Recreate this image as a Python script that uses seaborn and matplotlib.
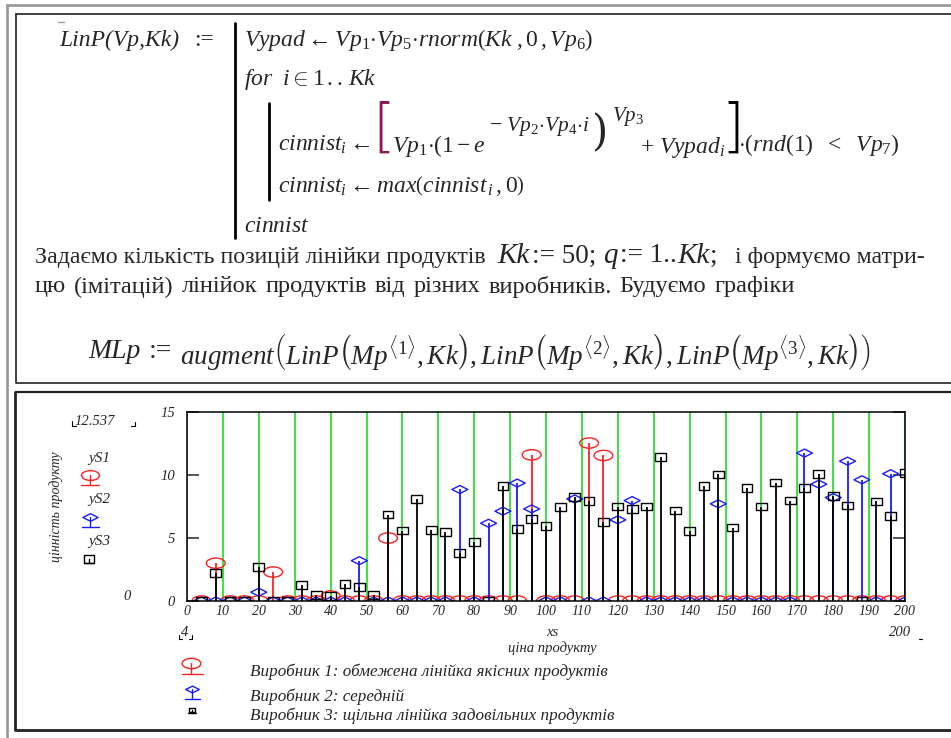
import numpy as np
import pandas as pd
import matplotlib
matplotlib.use("Agg")
import matplotlib.pyplot as plt
from matplotlib.path import Path
from matplotlib.lines import Line2D
import seaborn as sns

# ---------------------------------------------------------------- data
Kk = 50
xs = [4 * q for q in range(1, Kk + 1)]          # ціна продукту

# Виробник 1: обмежена лінійка якісних продуктів
yS1 = [0, 3.0, 0, 0, 0, 2.3, 0, 0, 0, 0.4,
       0, 0, 0, 5.0, 0, 0, 0, 0, 0, 0,
       0, 0, 0, 11.6, 0, 0, 0, 12.537, 11.55, 0,
       0, 0, 0, 0, 0, 0, 0, 0, 0, 0,
       0, 0, 0, 0, 0, 0, 0, 0, 0, 0]
# Виробник 2: середній
yS2 = [0, 0, 0, 0, 0.7, 0, 0, 0, 0, 0,
       0, 3.2, 0, 0, 0, 0, 0, 0, 8.85, 0,
       6.17, 7.13, 9.36, 7.31, 0, 0, 8.1, 0, 0, 6.44,
       7.97, 0, 0, 0, 0, 0, 7.71, 0, 0, 0,
       0, 0, 11.74, 9.27, 8.21, 11.1, 9.62, 0, 10.1, 0]
# Виробник 3: щільна лінійка задовільних продуктів
yS3 = [0, 2.2, 0, 0, 2.73, 0, 0, 1.3, 0.45, 0.4,
       1.38, 1.11, 0.48, 6.86, 5.59, 8.1, 5.64, 5.48, 3.79, 4.69,
       0, 9.12, 5.72, 6.49, 5.93, 7.47, 8.24, 7.92, 6.25, 7.5,
       7.29, 7.5, 11.42, 7.18, 5.56, 9.14, 10.04, 5.83, 8.96, 7.5,
       9.4, 7.97, 8.96, 10.1, 8.32, 7.58, 0, 7.9, 6.76, 10.17]

series_names = ["yS1", "yS2", "yS3"]
series_colors = ["#FF2020", "#1A1AFF", "#000000"]
legend_labels = ["Виробник 1: обмежена лінійка якісних продуктів",
                 "Виробник 2: середній",
                 "Виробник 3: щільна лінійка задовільних продуктів"]
x_ticks = list(range(0, 201, 10))
y_ticks = [0, 5, 10, 15]

df = pd.DataFrame({"xs": xs * 3,
                   "y": yS1 + yS2 + yS3,
                   "series": [n for n in series_names for _ in xs]})

# ---------------------------------------------------------------- style
sns.set_theme(style="white")
plt.rcParams["font.family"] = ["Liberation Serif", "DejaVu Serif"]
plt.rcParams["mathtext.fontset"] = "custom"
plt.rcParams["mathtext.rm"] = "Liberation Serif"
plt.rcParams["mathtext.it"] = "Liberation Serif:italic"
plt.rcParams["mathtext.bf"] = "Liberation Serif:bold"

W, H = 951, 738
fig = plt.figure(figsize=(W / 100, H / 100), dpi=100)
fig.patch.set_facecolor("white")
renderer = fig.canvas.get_renderer()


def fx(px):
    return px / W


def fy(py):
    return 1 - py / H


def ftext(px, py, s, **kw):
    kw.setdefault("va", "center")
    kw.setdefault("ha", "left")
    return fig.text(fx(px), fy(py), s, **kw)


def chain(px, py, pieces):
    """Write text pieces one after another; each piece is (text, kwargs, gap)."""
    x = px
    for s, kw, gap in pieces:
        t = ftext(x, py, s, **kw)
        x += t.get_window_extent(renderer).width + gap
    return x


def fline(xs_px, ys_px, **kw):
    fig.add_artist(Line2D([fx(v) for v in xs_px], [fy(v) for v in ys_px],
                          transform=fig.transFigure, **kw))


# marker shapes: open ellipse, flat diamond, small box
ellipse = Path(Path.unit_circle().vertices * [1.0, 0.55], Path.unit_circle().codes)
diamond = Path([(-1, 0), (0, 0.5), (1, 0), (0, -0.5), (-1, 0)],
               [Path.MOVETO, Path.LINETO, Path.LINETO, Path.LINETO, Path.CLOSEPOLY])
box = Path([(-1, -0.72), (1, -0.72), (1, 0.72), (-1, 0.72), (-1, -0.72)],
           [Path.MOVETO, Path.LINETO, Path.LINETO, Path.LINETO, Path.CLOSEPOLY])
markers = [ellipse, diamond, box]
marker_pts = [13.5, 11.5, 7.8]

# ---------------------------------------------------------------- worksheet frames
fline([7, 7], [5, 738], color="#9a9a9a", lw=2)
fline([7, 951], [5, 5], color="#9a9a9a", lw=2)
fline([16, 16, 951], [14, 383, 383], color="#333333", lw=1.3)
fline([16, 951], [14, 14], color="#333333", lw=1.3)
fline([16, 951], [392, 392], color="#222222", lw=1.6)
fline([15, 15, 951], [392, 730, 730], color="#222222", lw=2)

# ---------------------------------------------------------------- program block
FS = 17
IT = dict(fontsize=FS, style="italic")
RM = dict(fontsize=FS)
chain(59, 40, [("LinP(Vp,Kk)", IT, 15), (":=", RM, 0)])
fline([58, 64], [22, 22], color="#999999", lw=1)
fline([235, 235], [23, 238], color="black", lw=2)
fline([269, 269], [103, 200], color="black", lw=2)
ftext(244, 40, r"$Vypad \leftarrow Vp_{\mathit{1}}{\cdot}Vp_{\mathit{5}}{\cdot}rnorm\left(Kk\ ,\mathit{0}\,,Vp_{\mathit{6}}\right)$",
      fontsize=FS)
ftext(244, 79, r"$for\ \ i \in \mathit{1}\,..\,Kk$", fontsize=FS)
ftext(278, 145, r"$cinnist_{i} \leftarrow$", fontsize=FS)
ftext(372, 129, "[", fontsize=42, color="#8B1A5A", family="DejaVu Sans",
      fontweight="ultralight")
ftext(392, 146, r"$Vp_{\mathit{1}}{\cdot}(\mathit{1}-e$", fontsize=FS)
ftext(489, 127, r"$-\ Vp_{2}{\cdot}Vp_{4}{\cdot}i$", fontsize=15.5)
ftext(592, 133, ")", fontsize=30, family="DejaVu Serif", fontweight="light")
ftext(612, 116, r"$Vp_{3}$", fontsize=15)
ftext(640, 147, r"$+\ Vypad_{i}$", fontsize=FS)
ftext(721, 129, "]", fontsize=42, color="black", family="DejaVu Sans",
      fontweight="ultralight")
ftext(738, 145, r"${\cdot}\left(rnd(\mathit{1})\ \ <\ \ Vp_{\mathit{7}}\right)$", fontsize=FS)
ftext(278, 186, r"$cinnist_{i} \leftarrow max\left(cinnist_{\,i}\,,\mathit{0}\right)$", fontsize=FS)
ftext(244, 227, r"$cinnist$", fontsize=FS)

# ---------------------------------------------------------------- description
TX = 17.2
ftext(35, 257, "Задаємо кількість позицій лінійки продуктів", fontsize=TX)
chain(497, 256, [("Kk", dict(fontsize=21, style="italic"), 3),
                 (":= 50;", dict(fontsize=19.5), 6),
                 ("q", dict(fontsize=21, style="italic"), 3),
                 (":= 1..", dict(fontsize=19.5), 0),
                 ("Kk", dict(fontsize=21, style="italic"), 0),
                 (";", dict(fontsize=19.5), 0)])
ftext(735, 257, "і формуємо матри-", fontsize=TX)
line2 = "цю (імітацій) лінійок продуктів від різних виробників. Будуємо графіки"
chain(35, 287, [(w, dict(fontsize=17.6), 8.0) for w in line2.split(" ")])
chain(88, 352, [("MLp", dict(fontsize=20, style="italic"), 8),
                (":=", dict(fontsize=20), 8),
                (r"$augment\left(LinP\left(Mp^{\langle 1\rangle},Kk\right),LinP\left(Mp^{\langle 2\rangle},Kk\right),LinP\left(Mp^{\langle 3\rangle},Kk\right)\right)$",
                 dict(fontsize=19.5), 0)])

# ---------------------------------------------------------------- chart
ax = fig.add_axes([fx(187), fy(601), (905 - 187) / W, (601 - 412) / H])
ax.set_facecolor("white")

for i, (name, col) in enumerate(zip(series_names, series_colors)):
    sub = df[df["series"] == name]
    nz = sub[sub["y"] > 0]
    ax.vlines(nz["xs"], 0, nz["y"], color=col, lw=1.3, zorder=3 + i)
    sns.scatterplot(data=sub, x="xs", y="y", ax=ax, marker=markers[i],
                    s=marker_pts[i] ** 2, color=col, facecolor="none",
                    edgecolor=col, linewidth=1.0, zorder=3 + i, legend=False)

ax.set_xlim(0, 200)
ax.set_ylim(0, 15)
ax.set_xticks(x_ticks)
ax.set_yticks(y_ticks)
ax.grid(axis="x", color="#1EDC1E", lw=1.2, zorder=1)
ax.grid(axis="y", visible=False)
for sp in ax.spines.values():
    sp.set_color("black")
    sp.set_linewidth(1.1)
    sp.set_visible(True)
    sp.set_zorder(6)
ax.tick_params(axis="x", length=0, pad=3, labelsize=10)
ax.tick_params(axis="y", direction="in", length=8.5, width=1.1, left=True,
               right=True, pad=8.5, labelsize=10.5)
for lab in ax.get_xticklabels() + ax.get_yticklabels():
    lab.set_fontstyle("italic")
ax.set_xlabel("")
ax.set_ylabel("")

# axis limit readouts and trace names
ftext(115, 421, "12.537", fontsize=10.5, style="italic", ha="right")
fline([72, 72, 76], [421, 426, 426], color="black", lw=0.8)
fline([131, 135, 135], [426, 426, 422], color="black", lw=0.8)
ftext(131, 597, "0", fontsize=10.5, style="italic", ha="right")
ftext(185, 633, "4", fontsize=10.5, style="italic", ha="center")
fline([179, 179, 182], [635, 639, 639], color="black", lw=0.8)
fline([189, 192, 192], [639, 639, 635], color="black", lw=0.8)
ftext(911, 633, "200", fontsize=10.5, style="italic", ha="right")
fline([919, 922], [639, 639], color="black", lw=0.8)
ftext(552, 633, "xs", fontsize=10.5, style="italic", ha="center")
ftext(552, 648, "ціна продукту", fontsize=10.5, style="italic", ha="center")
ftext(56, 507, "цінність продукту", fontsize=10, style="italic", ha="center",
      rotation=90)

sym_pos = [(90, 475, 485, 81, 99), (90, 517, 527, 82, 99), (89, 559, 563, 84, 93)]
for i, (sx, sy, base, b0, b1) in enumerate(sym_pos):
    ftext(99, sy - 17, series_names[i], fontsize=11, style="italic", ha="center")
    fline([sx], [sy], marker=markers[i], ms=marker_pts[i] * (0.95 if i < 2 else 1.0),
          mfc="none", mec=series_colors[i], mew=1.0, ls="none")
    fline([sx, sx], [sy, base], color=series_colors[i], lw=1.0)
    fline([b0, b1], [base, base], color=series_colors[i], lw=1.0)

# legend below the chart
leg_pos = [(191, 663, 674, 182, 203, 672), (192, 689, 699, 185, 200, 697),
           (192, 710, 713, 188, 196, 716)]
leg_scale = [1.0, 0.85, 0.55]
for i, (sx, sy, base, b0, b1, ty) in enumerate(leg_pos):
    fline([sx], [sy], marker=markers[i], ms=marker_pts[i] * leg_scale[i],
          mfc="none", mec=series_colors[i], mew=1.0, ls="none")
    fline([sx, sx], [sy, base], color=series_colors[i], lw=1.0)
    fline([b0, b1], [base, base], color=series_colors[i], lw=1.0)
    ftext(250, ty, legend_labels[i], fontsize=12.3, style="italic")

fig.savefig("out.png", dpi=100, facecolor="white")
